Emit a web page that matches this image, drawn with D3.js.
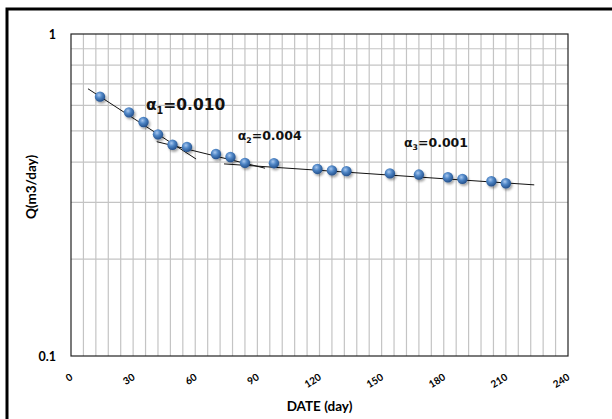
<!DOCTYPE html>
<html>
<head>
<meta charset="utf-8">
<script src="https://cdn.jsdelivr.net/npm/d3@7"></script>
<style>
  body { margin: 0; background: #fff; }
  svg { display: block; }
</style>
</head>
<body>
<script>
// data
var days = [14, 28, 35, 42, 49, 56, 70, 77, 84, 98, 119, 126, 133, 154, 168, 182, 189, 203, 210];
var rates = [0.639, 0.571, 0.533, 0.488, 0.453, 0.446, 0.424, 0.415, 0.398, 0.397,
             0.381, 0.377, 0.375, 0.369, 0.366, 0.359, 0.355, 0.349, 0.344];
var xTicks = [0, 30, 60, 90, 120, 150, 180, 210, 240];
var yTicks = [0.1, 1];
// decline fit segments: [startDay, startQ, endDay, endQ]
var fits = [
  [8.2, 0.676, 60.4, 0.409],
  [41.4, 0.463, 93.7, 0.383],
  [73.9, 0.395, 223.7, 0.340]
];
var fitLabels = [
  {sub: "1", val: "=0.010", day: 36.2, q: 0.581, size: 15.5},
  {sub: "2", val: "=0.004", day: 80.5, q: 0.469, size: 12.5},
  {sub: "3", val: "=0.001", day: 160.8, q: 0.447, size: 12.5}
];

var width = 612, height = 419;
var margin = {top: 34, right: 44, bottom: 63, left: 71},
    plotW = width - margin.left - margin.right,
    plotH = height - margin.top - margin.bottom;

var svg = d3.select("body").append("svg")
  .attr("width", width)
  .attr("height", height);

// outer frame (only top and left edges show)
svg.append("rect")
  .attr("x", 7).attr("y", 9)
  .attr("width", 700).attr("height", 500)
  .style("fill", "none")
  .style("stroke", "#000")
  .style("stroke-width", 3);

var defs = svg.append("defs");
var grad = defs.append("radialGradient")
  .attr("id", "ball")
  .attr("cx", "40%").attr("cy", "35%").attr("r", "65%");
grad.append("stop").attr("offset", "0%").attr("stop-color", "#a9c8ef");
grad.append("stop").attr("offset", "45%").attr("stop-color", "#4f86c6");
grad.append("stop").attr("offset", "100%").attr("stop-color", "#23508c");
var shadow = defs.append("filter").attr("id", "shadow")
  .attr("x", "-50%").attr("y", "-50%").attr("width", "200%").attr("height", "200%");
shadow.append("feDropShadow")
  .attr("dx", 1.5).attr("dy", 2)
  .attr("stdDeviation", 1.3)
  .attr("flood-color", "#000")
  .attr("flood-opacity", 0.35);

var xScale = d3.scaleLinear().domain([0, 240]).range([0, plotW]);
var yScale = d3.scaleLog().domain([0.1, 1]).range([plotH, 0]);

var g = svg.append("g")
  .attr("transform", "translate(" + margin.left + "," + margin.top + ")");

// grid
g.append("g")
  .selectAll("line")
  .data(d3.range(6, 240, 6))
  .enter().append("line")
  .attr("x1", d => xScale(d)).attr("x2", d => xScale(d))
  .attr("y1", 0).attr("y2", plotH)
  .style("stroke", "#c4c4c4")
  .style("stroke-width", 1.2);

g.append("g")
  .selectAll("line")
  .data(yScale.ticks().filter(d => d > 0.1 && d < 1))
  .enter().append("line")
  .attr("x1", 0).attr("x2", plotW)
  .attr("y1", d => yScale(d)).attr("y2", d => yScale(d))
  .style("stroke", "#c4c4c4")
  .style("stroke-width", 1.2);

// plot border
g.append("rect")
  .attr("width", plotW).attr("height", plotH)
  .style("fill", "none")
  .style("stroke", "#222")
  .style("stroke-width", 1.2);

// x axis labels
var xAxis = d3.axisBottom(xScale).tickValues(xTicks).tickSize(0).tickPadding(0);
var xg = g.append("g")
  .attr("transform", "translate(0," + plotH + ")")
  .call(xAxis);
xg.select(".domain").remove();
xg.selectAll("text")
  .attr("y", 0).attr("dy", 0)
  .attr("transform", "translate(2,23) rotate(-32)")
  .style("text-anchor", "end")
  .style("font-family", "Lato, 'Open Sans', sans-serif")
  .style("font-weight", "bold")
  .style("font-size", "10px")
  .style("fill", "#000");

// y axis labels
var yAxis = d3.axisLeft(yScale).tickValues(yTicks).tickFormat(d3.format("")).tickSize(0).tickPadding(15);
var yg = g.append("g").call(yAxis);
yg.select(".domain").remove();
yg.selectAll("text")
  .attr("dy", "0.35em")
  .style("font-family", "Lato, 'Open Sans', sans-serif")
  .style("font-weight", "bold")
  .style("font-size", "12.5px")
  .style("fill", "#000");

// axis titles
svg.append("text")
  .attr("x", margin.left + plotW / 2)
  .attr("y", 411)
  .attr("text-anchor", "middle")
  .style("font-family", "Lato, 'Open Sans', sans-serif")
  .style("font-weight", "bold")
  .style("font-size", "13.5px")
  .text("DATE (day)");

svg.append("text")
  .attr("transform", "translate(36,187) rotate(-90)")
  .attr("text-anchor", "middle")
  .style("font-family", "Lato, 'Open Sans', sans-serif")
  .style("font-weight", "bold")
  .style("font-size", "13.5px")
  .text("Q(m3/day)");

// decline fit lines
g.append("g")
  .selectAll("line")
  .data(fits)
  .enter().append("line")
  .attr("x1", d => xScale(d[0])).attr("y1", d => yScale(d[1]))
  .attr("x2", d => xScale(d[2])).attr("y2", d => yScale(d[3]))
  .style("stroke", "#111")
  .style("stroke-width", 1);

// data points
g.append("g")
  .selectAll("circle")
  .data(days)
  .enter().append("circle")
  .attr("cx", d => xScale(d))
  .attr("cy", (d, i) => yScale(rates[i]))
  .attr("r", 5.2)
  .attr("filter", "url(#shadow)")
  .style("fill", "url(#ball)");

// alpha labels
var lbl = g.append("g")
  .selectAll("text")
  .data(fitLabels)
  .enter().append("text")
  .attr("x", d => xScale(d.day))
  .attr("y", d => yScale(d.q))
  .style("font-family", "'DejaVu Sans', Verdana, sans-serif")
  .style("font-weight", "bold")
  .style("font-size", d => d.size + "px")
  .style("fill", "#111");
lbl.append("tspan").text("\u03b1");
lbl.append("tspan")
  .attr("dy", d => d.size * 0.25)
  .style("font-size", d => (d.size * 0.62) + "px")
  .text(d => d.sub);
lbl.append("tspan")
  .attr("dy", d => -d.size * 0.25)
  .text(d => d.val);
</script>
</body>
</html>
